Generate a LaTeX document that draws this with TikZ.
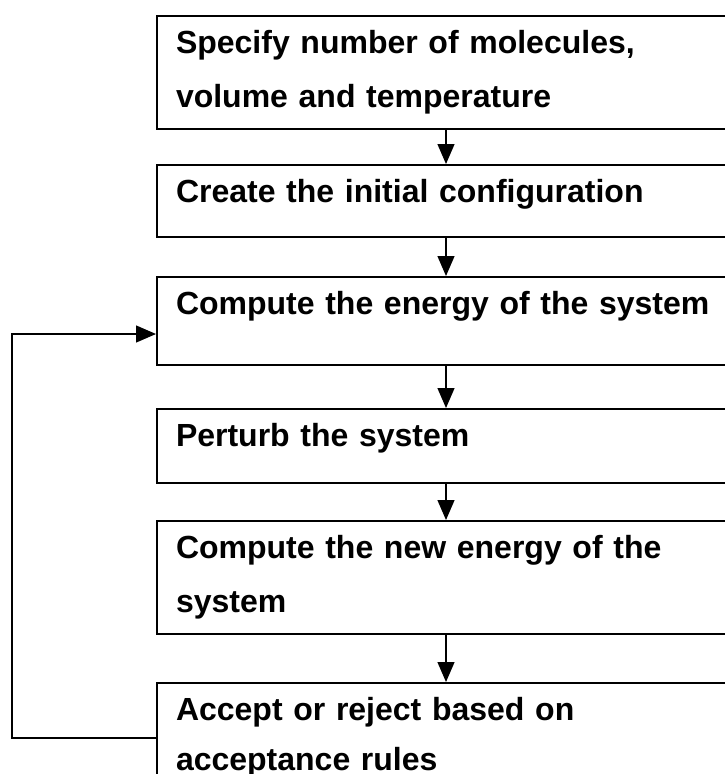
\documentclass[tikz,border=0pt]{standalone}
\usepackage{fontspec}
\setmainfont{Liberation Sans}
\usetikzlibrary{positioning,arrows.meta}

\begin{document}
\begin{tikzpicture}[x=1pt,y=-1pt,>={Triangle[width=17pt,length=20pt]},
  stepbox/.style={draw,line width=2pt,rectangle,text width=540pt,align=left,
    inner xsep=19pt,inner ysep=0pt,text height=37pt,
    font=\bfseries\fontsize{32}{54}\selectfont},
  flow/.style={->,line width=1.3pt}]
  \useasboundingbox (0,0) rectangle (725,774);
  \clip (0,0) rectangle (725,774);
  % --- the steps ---
  \node[stepbox,anchor=north west,text depth=76pt] (b1) at (156,15)
    {Specify number of molecules,\\volume and temperature};
  \node[stepbox,text depth=35pt,below=34pt of b1] (b2) {Create the initial configuration};
  \node[stepbox,text depth=51pt,below=38pt of b2] (b3) {Compute the energy of the system};
  \node[stepbox,text depth=37pt,below=42pt of b3] (b4) {Perturb the system};
  \node[stepbox,text depth=76pt,below=36pt of b4] (b5)
    {Compute the new energy of the\\system};
  \node[stepbox,text depth=73pt,below=47pt of b5,
    font=\bfseries\fontsize{32}{50}\selectfont] (b6)
    {Accept or reject based on\\acceptance rules};
  % --- arrows ---
  \draw[flow] (b1) -- (b2);
  \draw[flow] (b2) -- (b3);
  \draw[flow] (b3) -- (b4);
  \draw[flow] (b4) -- (b5);
  \draw[flow] (b5) -- (b6);
  % --- loop back ---
  \coordinate (in3) at ([yshift=-13pt]b3.west);
  \coordinate (out6) at ([xshift=-144pt]b6.west);
  \draw[flow] (b6.west) -- (out6) |- (in3);
\end{tikzpicture}
\end{document}
